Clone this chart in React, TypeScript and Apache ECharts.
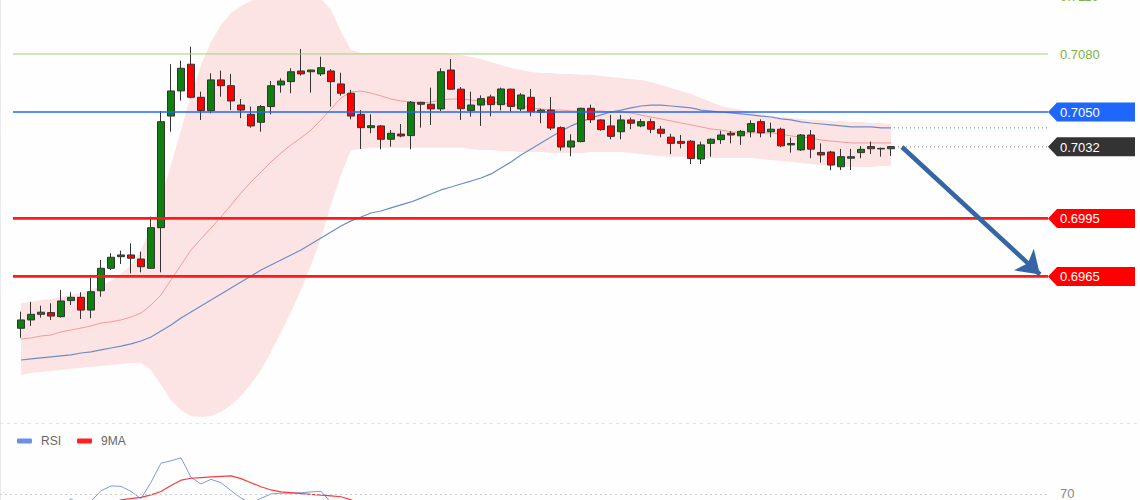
import React, { useEffect, useRef } from 'react';
import * as echarts from 'echarts';

const FONT = 'Liberation Sans, Arial, sans-serif';

// ---- candle data (index = candle number) ----
const opens = [
  0.69382, 0.69425, 0.69454, 0.69463, 0.69442, 0.69525, 0.69542, 0.69476, 0.69576, 0.69692,
  0.69752, 0.69761, 0.69740, 0.69692, 0.69902, 0.70479, 0.70609, 0.70747, 0.70576, 0.70507,
  0.70666, 0.70636, 0.70536, 0.70488, 0.70447, 0.70528, 0.70640, 0.70657, 0.70712, 0.70708,
  0.70697, 0.70712, 0.70645, 0.70597, 0.70488, 0.70419, 0.70428, 0.70359, 0.70386, 0.70378,
  0.70550, 0.70540, 0.70516, 0.70717, 0.70618, 0.70508, 0.70536, 0.70578, 0.70538, 0.70618,
  0.70516, 0.70576, 0.70499, 0.70510, 0.70419, 0.70319, 0.70347, 0.70519, 0.70459, 0.70428,
  0.70398, 0.70459, 0.70428, 0.70450, 0.70411, 0.70370, 0.70348, 0.70349, 0.70257, 0.70338,
  0.70357, 0.70390, 0.70377, 0.70398, 0.70450, 0.70398, 0.70411, 0.70330, 0.70304, 0.70381,
  0.70291, 0.70293, 0.70217, 0.70261, 0.70290, 0.70321, 0.70309, 0.70310,
];
const closes = [
  0.69425, 0.69454, 0.69465, 0.69445, 0.69523, 0.69542, 0.69476, 0.69571, 0.69692, 0.69749,
  0.69761, 0.69744, 0.69700, 0.69902, 0.70450, 0.70609, 0.70726, 0.70576, 0.70507, 0.70666,
  0.70636, 0.70557, 0.70510, 0.70428, 0.70528, 0.70636, 0.70660, 0.70708, 0.70697, 0.70717,
  0.70729, 0.70657, 0.70597, 0.70479, 0.70419, 0.70429, 0.70359, 0.70390, 0.70376, 0.70550,
  0.70540, 0.70516, 0.70708, 0.70618, 0.70517, 0.70536, 0.70569, 0.70538, 0.70619, 0.70529,
  0.70588, 0.70502, 0.70510, 0.70417, 0.70319, 0.70350, 0.70519, 0.70460, 0.70409, 0.70374,
  0.70459, 0.70442, 0.70450, 0.70411, 0.70390, 0.70338, 0.70338, 0.70259, 0.70330, 0.70359,
  0.70381, 0.70381, 0.70400, 0.70440, 0.70392, 0.70411, 0.70325, 0.70337, 0.70381, 0.70308,
  0.70278, 0.70226, 0.70269, 0.70269, 0.70307, 0.70310, 0.70312, 0.70321,
];
const lows = [
  0.69333, 0.69394, 0.69437, 0.69425, 0.69437, 0.69502, 0.69430, 0.69434, 0.69545, 0.69683,
  0.69714, 0.69666, 0.69671, 0.69690, 0.69671, 0.70398, 0.70559, 0.70571, 0.70459, 0.70493,
  0.70579, 0.70510, 0.70468, 0.70419, 0.70398, 0.70488, 0.70600, 0.70597, 0.70688, 0.70600,
  0.70686, 0.70528, 0.70584, 0.70462, 0.70309, 0.70390, 0.70307, 0.70321, 0.70369, 0.70307,
  0.70419, 0.70433, 0.70505, 0.70614, 0.70459, 0.70476, 0.70428, 0.70478, 0.70508, 0.70502,
  0.70505, 0.70478, 0.70442, 0.70406, 0.70300, 0.70271, 0.70343, 0.70443, 0.70403, 0.70359,
  0.70359, 0.70411, 0.70421, 0.70390, 0.70369, 0.70282, 0.70312, 0.70231, 0.70231, 0.70269,
  0.70335, 0.70338, 0.70330, 0.70369, 0.70369, 0.70369, 0.70318, 0.70290, 0.70299, 0.70261,
  0.70238, 0.70199, 0.70200, 0.70200, 0.70261, 0.70283, 0.70269, 0.70273,
];
const highs = [
  0.69468, 0.69519, 0.69499, 0.69511, 0.69580, 0.69568, 0.69568, 0.69643, 0.69735, 0.69770,
  0.69783, 0.69821, 0.69778, 0.69959, 0.70505, 0.70747, 0.70765, 0.70838, 0.70605, 0.70700,
  0.70714, 0.70697, 0.70567, 0.70528, 0.70536, 0.70660, 0.70674, 0.70726, 0.70826, 0.70719,
  0.70786, 0.70722, 0.70703, 0.70614, 0.70510, 0.70488, 0.70433, 0.70407, 0.70438, 0.70557,
  0.70553, 0.70626, 0.70726, 0.70774, 0.70629, 0.70605, 0.70586, 0.70590, 0.70626, 0.70621,
  0.70597, 0.70619, 0.70517, 0.70577, 0.70426, 0.70385, 0.70522, 0.70538, 0.70462, 0.70485,
  0.70485, 0.70471, 0.70464, 0.70466, 0.70428, 0.70387, 0.70381, 0.70355, 0.70347, 0.70364,
  0.70403, 0.70402, 0.70407, 0.70457, 0.70462, 0.70445, 0.70419, 0.70367, 0.70386, 0.70407,
  0.70338, 0.70299, 0.70309, 0.70309, 0.70324, 0.70347, 0.70316, 0.70324,
];

// ---- indicators ----
const bbUpper = [
  0.69513, 0.69518, 0.69528, 0.69533, 0.69544, 0.69554, 0.69564, 0.69580, 0.69601, 0.69626,
  0.69663, 0.69709, 0.69787, 0.69900, 0.70055, 0.70226, 0.70407, 0.70588, 0.70743, 0.70862,
  0.70950, 0.71012, 0.71048, 0.71074, 0.71095, 0.71105, 0.71110, 0.71110, 0.71105, 0.71100,
  0.71084, 0.71028, 0.70914, 0.70821, 0.70805, 0.70805, 0.70805, 0.70805, 0.70805, 0.70805,
  0.70805, 0.70805, 0.70805, 0.70800, 0.70795, 0.70785, 0.70774, 0.70759, 0.70743, 0.70728,
  0.70717, 0.70707, 0.70702, 0.70702, 0.70697, 0.70697, 0.70692, 0.70692, 0.70686, 0.70681,
  0.70676, 0.70671, 0.70666, 0.70655, 0.70640, 0.70624, 0.70608, 0.70593, 0.70573, 0.70552,
  0.70531, 0.70521, 0.70510, 0.70500, 0.70490, 0.70479, 0.70474, 0.70469, 0.70464, 0.70459,
  0.70459, 0.70454, 0.70454, 0.70449, 0.70449, 0.70443, 0.70443, 0.70438,
];
const bbLower = [
  0.69140, 0.69151, 0.69156, 0.69161, 0.69166, 0.69172, 0.69177, 0.69182, 0.69187, 0.69192,
  0.69197, 0.69203, 0.69203, 0.69166, 0.69089, 0.69011, 0.68960, 0.68928, 0.68923, 0.68928,
  0.68949, 0.68985, 0.69032, 0.69094, 0.69166, 0.69261, 0.69363, 0.69466, 0.69580, 0.69709,
  0.69849, 0.70020, 0.70175, 0.70304, 0.70309, 0.70315, 0.70315, 0.70315, 0.70315, 0.70315,
  0.70315, 0.70315, 0.70315, 0.70315, 0.70315, 0.70309, 0.70304, 0.70304, 0.70299, 0.70299,
  0.70293, 0.70293, 0.70293, 0.70288, 0.70288, 0.70288, 0.70288, 0.70293, 0.70293, 0.70293,
  0.70293, 0.70288, 0.70283, 0.70278, 0.70273, 0.70268, 0.70268, 0.70262, 0.70262, 0.70262,
  0.70262, 0.70262, 0.70262, 0.70262, 0.70257, 0.70252, 0.70247, 0.70242, 0.70236, 0.70231,
  0.70226, 0.70221, 0.70221, 0.70216, 0.70216, 0.70216, 0.70221, 0.70221,
];
const bbMiddle = [
  0.69326, 0.69332, 0.69342, 0.69347, 0.69363, 0.69373, 0.69383, 0.69394, 0.69409, 0.69415,
  0.69425, 0.69440, 0.69461, 0.69502, 0.69554, 0.69632, 0.69709, 0.69787, 0.69844, 0.69900,
  0.69957, 0.70019, 0.70081, 0.70138, 0.70190, 0.70242, 0.70288, 0.70330, 0.70366, 0.70407,
  0.70459, 0.70516, 0.70573, 0.70604, 0.70608, 0.70598, 0.70583, 0.70567, 0.70557, 0.70552,
  0.70546, 0.70552, 0.70562, 0.70567, 0.70567, 0.70562, 0.70557, 0.70552, 0.70546, 0.70541,
  0.70531, 0.70521, 0.70516, 0.70510, 0.70510, 0.70505, 0.70505, 0.70505, 0.70505, 0.70500,
  0.70500, 0.70495, 0.70484, 0.70474, 0.70464, 0.70454, 0.70443, 0.70433, 0.70423, 0.70412,
  0.70407, 0.70397, 0.70392, 0.70392, 0.70392, 0.70392, 0.70386, 0.70376, 0.70371, 0.70366,
  0.70355, 0.70350, 0.70345, 0.70340, 0.70340, 0.70340, 0.70340, 0.70340,
];
const maSlow = [
  0.69218, 0.69224, 0.69229, 0.69234, 0.69239, 0.69244, 0.69254, 0.69260, 0.69270, 0.69280,
  0.69290, 0.69301, 0.69316, 0.69337, 0.69368, 0.69399, 0.69435, 0.69466, 0.69497, 0.69528,
  0.69559, 0.69590, 0.69621, 0.69652, 0.69683, 0.69709, 0.69735, 0.69761, 0.69787, 0.69818,
  0.69849, 0.69880, 0.69911, 0.69937, 0.69957, 0.69978, 0.69988, 0.70004, 0.70020, 0.70035,
  0.70055, 0.70076, 0.70097, 0.70112, 0.70128, 0.70143, 0.70159, 0.70180, 0.70211, 0.70242,
  0.70278, 0.70309, 0.70340, 0.70371, 0.70402, 0.70428, 0.70449, 0.70469, 0.70485, 0.70500,
  0.70510, 0.70521, 0.70531, 0.70536, 0.70536, 0.70531, 0.70526, 0.70521, 0.70510, 0.70505,
  0.70500, 0.70495, 0.70490, 0.70485, 0.70479, 0.70474, 0.70464, 0.70459, 0.70449, 0.70443,
  0.70438, 0.70433, 0.70428, 0.70423, 0.70423, 0.70423, 0.70418, 0.70418,
];

// RSI pane (only the visible part of the pane, starting at a candle index)
const rsiStart = 4;
const rsiValues = [
  64, 67.8, 64, 66.5, 71.5, 73.8, 73.6, 71.2, 67.8, 75.5, 84.5, 85.6, 87, 77.8, 74.7, 76.9,
  75.3, 71.6, 68.1, 65.5, 68, 70, 70.4, 70.4, 70.6, 71, 71.3, 66,
];
const rsiMaStart = 9;
const rsiMaValues = [
  65, 67.3, 67.8, 68.4, 69.6, 71.2, 74, 76.5, 77.4, 77.7, 78, 78.3, 78.5, 77.2, 75.3, 73.4,
  71.9, 71, 70.6, 70.2, 69.8, 69.5, 69.1, 68.7, 67.3, 65,
];
const rsiLevel = 70;

// price levels
const resistanceLevels = [0.7110, 0.7080];
const pivotLevel = 0.7050;
const supportLevels = [0.6995, 0.6965];
const lastPrice = 0.7032;
const tagPrices = [0.7050, 0.7032, 0.6995, 0.6965];
const tagColors = ['#1f66fb', '#333333', '#ff0000', '#ff0000'];

const X_MIN = -2.1;
const X_MAX = 102.7;
const X_LINE_START = -0.8;

export default function App() {
  const ref = useRef<HTMLDivElement>(null);

  useEffect(() => {
    if (!ref.current) return;
    const chart = echarts.init(ref.current, undefined, { renderer: 'svg' });

    const candleData = opens.map((o, i) => [i, o, closes[i], lows[i], highs[i]]);
    const bandData = bbUpper.map((u, i) => [i, u, bbLower[i]]);
    const midData = bbMiddle.map((v, i) => [i, v]);
    const maData = maSlow.map((v, i) => [i, v]);
    const rsiData = rsiValues.map((v, k) => [rsiStart + k, v]);
    const rsiMaData = rsiMaValues.map((v, k) => [rsiMaStart + k, v]);
    const lastIdx = opens.length - 1;

    const hLine = (p: number, color: string, width: number, z = 4, x0 = X_LINE_START, type: any = 'solid') => ({
      type: 'line',
      xAxisIndex: 0,
      yAxisIndex: 0,
      data: [[x0, p], [X_MAX, p]],
      symbol: 'none',
      silent: true,
      z,
      lineStyle: { color, width, type },
    });

    const option: any = {
      animation: false,
      backgroundColor: '#fdfefd',
      textStyle: { fontFamily: FONT },
      legend: {
        data: ['RSI', '9MA'],
        left: 12,
        top: 430,
        icon: 'roundRect',
        itemWidth: 15,
        itemHeight: 5,
        itemGap: 16,
        selectedMode: false,
        textStyle: { color: '#666', fontSize: 12, fontFamily: FONT, padding: [0, 0, 0, 4] },
      },
      grid: [
        { left: 0, top: 0, width: 1048, height: 424 },
        { left: 0, top: 430, width: 1048, height: 70 },
      ],
      xAxis: [
        { gridIndex: 0, type: 'value', min: X_MIN, max: X_MAX, show: false },
        { gridIndex: 1, type: 'value', min: X_MIN, max: X_MAX, show: false },
      ],
      yAxis: [
        { gridIndex: 0, type: 'value', min: 0.68887, max: 0.71079, show: false },
        { gridIndex: 1, type: 'value', min: 67.18, max: 100.07, show: false },
      ],
      graphic: [
        { type: 'line', shape: { x1: 0, y1: 423.5, x2: 1140, y2: 423.5 }, style: { stroke: '#e2e2e2', lineWidth: 1, lineDash: [3, 4] }, silent: true },
        { type: 'line', shape: { x1: 0.5, y1: 0, x2: 0.5, y2: 500 }, style: { stroke: '#e8e8f0', lineWidth: 1 }, silent: true },
      ],
      series: [
        {
          name: 'bollinger', type: 'custom', xAxisIndex: 0, yAxisIndex: 0, clip: true, silent: true, z: 1,
          data: bandData,
          encode: { x: 0, y: [1, 2] },
          renderItem: (params: any, api: any) => {
            if (params.dataIndex !== 0) return null;
            const pts: number[][] = [];
            for (let i = 0; i < bandData.length; i++) pts.push(api.coord([bandData[i][0], bandData[i][1]]));
            for (let i = bandData.length - 1; i >= 0; i--) pts.push(api.coord([bandData[i][0], bandData[i][2]]));
            return {
              type: 'polygon',
              shape: { points: pts, smooth: 0 },
              style: { fill: '#fde4e4' },
            };
          },
        },
        {
          name: 'bbMid', type: 'line', xAxisIndex: 0, yAxisIndex: 0, data: midData, symbol: 'none', silent: true, z: 2,
          lineStyle: { color: '#f49a9a', width: 1 },
        },
        {
          name: 'maSlow', type: 'line', xAxisIndex: 0, yAxisIndex: 0, data: maData, symbol: 'none', silent: true, z: 2,
          lineStyle: { color: '#6e8cc6', width: 1.2 },
        },
        {
          name: 'price', type: 'candlestick', xAxisIndex: 0, yAxisIndex: 0, data: candleData,
          encode: { x: 0, y: [1, 2, 3, 4] }, barWidth: 7, z: 3,
          itemStyle: { color: '#0f800f', color0: '#ff0000', borderColor: '#333', borderColor0: '#333', borderWidth: 1 },
        },
        hLine(resistanceLevels[1], '#a3d272', 1),
        hLine(pivotLevel, '#1f66fb', 1.4),
        hLine(supportLevels[0], '#ff1a1a', 2.7),
        hLine(supportLevels[1], '#ff1a1a', 2.7),
        hLine(maSlow[lastIdx], '#5b7fc4', 1, 4, lastIdx + 0.3, [1, 3]),
        {
          ...hLine(lastPrice, '#777', 1, 6, lastIdx + 0.3, [1, 3]),
          markLine: {
            silent: true,
            symbol: ['none', 'arrow'],
            symbolSize: 22,
            label: { show: false },
            lineStyle: { color: '#3465a4', width: 4.5, type: 'solid' },
            data: [[{ coord: [88.1, 0.70319] }, { coord: [101.9, 0.69660] }]],
          },
        },
        {
          name: 'tags', type: 'custom', xAxisIndex: 0, yAxisIndex: 0, clip: false, silent: true, z: 7,
          data: tagPrices.map((p, i) => [X_MAX, p, i]),
          encode: { x: 0, y: 1 },
          renderItem: (params: any, api: any) => {
            const idx = api.value(2);
            const pt = api.coord([api.value(0), api.value(1)]);
            const x = pt[0];
            const y = pt[1];
            const h = 9.5;
            return {
              type: 'group',
              children: [
                {
                  type: 'polygon',
                  shape: { points: [[x, y], [x + 9, y - h], [x + 87, y - h], [x + 87, y + h], [x + 9, y + h]] },
                  style: { fill: tagColors[idx] },
                },
                {
                  type: 'text',
                  x: x + 12,
                  y: y + 0.5,
                  style: {
                    text: tagPrices[idx].toFixed(4), fill: '#ffffff', fontSize: 13, fontFamily: FONT,
                    verticalAlign: 'middle', align: 'left',
                  },
                },
              ],
            };
          },
        },
        {
          name: 'resLabels', type: 'custom', xAxisIndex: 0, yAxisIndex: 0, clip: false, silent: true, z: 7,
          data: resistanceLevels.map((p, i) => [X_MAX, p, i]),
          encode: { x: 0, y: 1 },
          renderItem: (params: any, api: any) => {
            const idx = api.value(2);
            const pt = api.coord([api.value(0), api.value(1)]);
            return {
              type: 'text',
              x: pt[0] + 12,
              y: pt[1] + 0.5,
              style: {
                text: resistanceLevels[idx].toFixed(4), fill: '#7cb342', fontSize: 13, fontFamily: FONT,
                verticalAlign: 'middle', align: 'left',
              },
            };
          },
        },
        {
          name: 'RSI', type: 'line', xAxisIndex: 1, yAxisIndex: 1, data: rsiData, symbol: 'none', silent: true,
          color: '#6d8fe6', lineStyle: { color: '#7d9be8', width: 1 },
          markLine: {
            silent: true, symbol: ['none', 'none'],
            label: { show: true, position: 'end', distance: 12, formatter: String(rsiLevel), color: '#888', fontSize: 13, fontFamily: FONT },
            lineStyle: { color: '#cfcfcf', type: [2, 3], width: 1 },
            data: [{ yAxis: rsiLevel }],
          },
        },
        {
          name: '9MA', type: 'line', xAxisIndex: 1, yAxisIndex: 1, data: rsiMaData, symbol: 'none', silent: true,
          color: '#ff2020', lineStyle: { color: '#ff3a3a', width: 1.2 },
        },
      ],
    };

    chart.setOption(option);
    return () => chart.dispose();
  }, []);

  return (
    <div
      ref={ref}
      style={{ position: 'fixed', left: 0, top: 0, width: 1140, height: 500 }}
    />
  );
}
